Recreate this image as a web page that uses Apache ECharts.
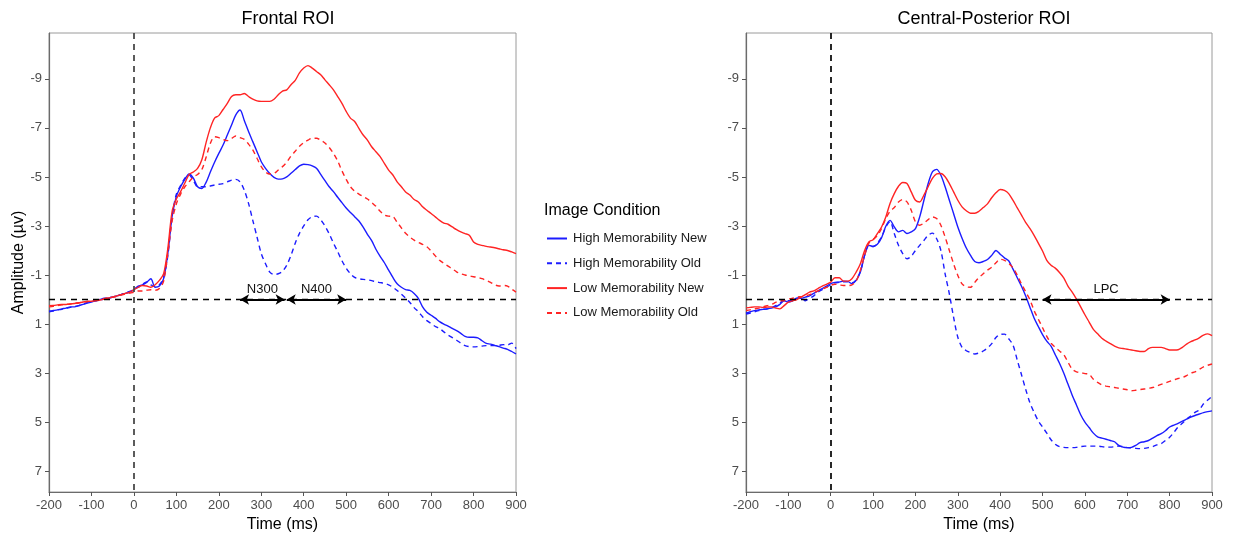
<!DOCTYPE html>
<html>
<head>
<meta charset="utf-8">
<script src="https://cdn.jsdelivr.net/npm/echarts@6/dist/echarts.min.js"></script>
<style>
    html, body { margin: 0; padding: 0; background: #fff; }
    #main { width: 1233px; height: 534px; }
</style>
</head>
<body>
<div id="main"></div>
<script>
// 时间轴 (ms), 每 10ms 一个采样点
let times = [];
for (let t = -200; t <= 900; t += 10) times.push(t);

let yTicks = [-9, -7, -5, -3, -1, 1, 3, 5, 7];

// Frontal ROI
let frontalHighNew = [0.48, 0.45, 0.42, 0.38, 0.35, 0.3, 0.3, 0.25, 0.2, 0.15, 0.1, 0.05, 0.0, -0.05, -0.05, -0.1, -0.15, -0.2, -0.25, -0.3,
    -0.4, -0.55, -0.6, -0.7, -0.85, -0.5, -0.55, -0.85, -1.9, -3.4, -4.2, -4.6, -4.9, -5.12, -4.95, -4.6, -4.53, -4.78, -5.2, -5.6,
    -5.96, -6.3, -6.71, -7.12, -7.53, -7.73, -7.3, -6.85, -6.44, -6.03, -5.62, -5.35, -5.14, -4.98, -4.91, -4.92, -5.0, -5.15, -5.3, -5.45,
    -5.52, -5.5, -5.45, -5.35, -5.1, -4.85, -4.6, -4.4, -4.17, -3.95, -3.73, -3.55, -3.38, -3.2, -2.95, -2.66, -2.4, -2.05, -1.76, -1.5,
    -1.2, -0.9, -0.64, -0.5, -0.4, -0.37, -0.25, -0.05, 0.3, 0.52, 0.64, 0.76, 0.9, 1.0, 1.08, 1.18, 1.27, 1.38, 1.5, 1.54,
    1.54, 1.56, 1.68, 1.79, 1.82, 1.87, 1.92, 1.98, 2.03, 2.12, 2.22];
let frontalHighOld = [0.5, 0.47, 0.42, 0.4, 0.35, 0.32, 0.28, 0.25, 0.2, 0.12, 0.08, 0.05, 0.02, -0.02, -0.08, -0.1, -0.15, -0.2, -0.28, -0.33,
    -0.42, -0.5, -0.62, -0.72, -0.6, -0.52, -0.6, -0.9, -1.8, -3.4, -4.3, -4.65, -4.95, -5.08, -4.85, -4.6, -4.6, -4.6, -4.63, -4.67,
    -4.7, -4.73, -4.8, -4.87, -4.9, -4.8, -4.46, -3.92, -3.23, -2.55, -1.87, -1.46, -1.12, -1.02, -1.05, -1.15, -1.4, -1.8, -2.3, -2.7,
    -3.0, -3.25, -3.38, -3.4, -3.25, -3.0, -2.68, -2.3, -1.95, -1.58, -1.28, -1.05, -0.9, -0.85, -0.82, -0.8, -0.77, -0.72, -0.69, -0.66,
    -0.6, -0.5, -0.37, -0.22, -0.06, 0.12, 0.33, 0.5, 0.7, 0.86, 0.98, 1.1, 1.18, 1.32, 1.45, 1.55, 1.66, 1.78, 1.88, 1.92,
    1.93, 1.92, 1.9, 1.88, 1.88, 1.88, 1.87, 1.84, 1.85, 1.78, 2.0];
let frontalLowNew = [0.25, 0.24, 0.22, 0.2, 0.2, 0.18, 0.16, 0.14, 0.1, 0.08, 0.07, 0.05, 0.02, -0.02, -0.06, -0.1, -0.15, -0.2, -0.25, -0.3,
    -0.4, -0.5, -0.57, -0.55, -0.5, -0.6, -0.78, -1.05, -2.1, -3.6, -4.1, -4.4, -4.75, -5.1, -5.2, -5.35, -5.7, -6.4, -7.0, -7.4,
    -7.5, -7.75, -8.0, -8.28, -8.35, -8.35, -8.4, -8.28, -8.17, -8.1, -8.08, -8.08, -8.08, -8.17, -8.35, -8.5, -8.55, -8.76, -8.94, -9.24,
    -9.44, -9.54, -9.44, -9.3, -9.17, -8.96, -8.76, -8.55, -8.28, -8.0, -7.67, -7.4, -7.26, -6.98, -6.71, -6.5, -6.23, -6.03, -5.83, -5.55,
    -5.28, -5.08, -4.8, -4.6, -4.39, -4.26, -4.08, -3.98, -3.78, -3.64, -3.51, -3.37, -3.23, -3.12, -3.07, -2.96, -2.85, -2.76, -2.69, -2.62,
    -2.35, -2.25, -2.21, -2.17, -2.14, -2.11, -2.07, -2.03, -2.0, -1.94, -1.87];
let frontalLowOld = [0.3, 0.28, 0.25, 0.22, 0.2, 0.18, 0.15, 0.13, 0.1, 0.08, 0.05, 0.03, 0.0, -0.03, -0.07, -0.1, -0.13, -0.18, -0.22, -0.26,
    -0.3, -0.35, -0.35, -0.38, -0.4, -0.38, -0.45, -0.75, -1.9, -3.2, -3.9, -4.3, -4.6, -4.8, -5.0, -5.1, -5.3, -5.8, -6.37, -6.64,
    -6.6, -6.53, -6.48, -6.57, -6.67, -6.6, -6.53, -6.34, -6.1, -5.76, -5.42, -5.2, -5.12, -5.14, -5.28, -5.42, -5.6, -5.85, -6.05, -6.25,
    -6.4, -6.5, -6.58, -6.58, -6.5, -6.38, -6.2, -5.96, -5.65, -5.25, -4.9, -4.6, -4.42, -4.3, -4.2, -4.1, -3.96, -3.8, -3.6, -3.45,
    -3.4, -3.38, -3.15, -2.92, -2.7, -2.55, -2.42, -2.33, -2.25, -2.15, -1.98, -1.78, -1.6, -1.48, -1.36, -1.25, -1.13, -1.05, -1.0, -0.96,
    -0.93, -0.9, -0.85, -0.78, -0.7, -0.6, -0.55, -0.57, -0.55, -0.42, -0.3];

// Central-Posterior ROI
let centralHighNew = [0.55, 0.5, 0.45, 0.42, 0.4, 0.38, 0.35, 0.3, 0.2, 0.05, 0.1, 0.05, -0.05, -0.05, -0.1, -0.15, -0.25, -0.35, -0.45, -0.55,
    -0.65, -0.7, -0.71, -0.75, -0.74, -0.65, -0.78, -1.12, -1.8, -2.21, -2.17, -2.25, -2.52, -2.99, -3.23, -2.96, -2.76, -2.82, -2.69, -2.76,
    -2.89, -3.37, -4.05, -4.73, -5.21, -5.31, -5.07, -4.6, -4.05, -3.51, -2.96, -2.5, -2.1, -1.8, -1.55, -1.5, -1.55, -1.63, -1.8, -2.0,
    -1.85, -1.7, -1.58, -1.25, -0.9, -0.55, -0.15, 0.3, 0.75, 1.1, 1.43, 1.7, 1.9, 2.25, 2.6, 3.0, 3.45, 3.9, 4.3, 4.7,
    5.0, 5.22, 5.45, 5.6, 5.65, 5.7, 5.75, 5.8, 5.95, 6.02, 6.04, 6.03, 5.95, 5.84, 5.8, 5.75, 5.65, 5.55, 5.47, 5.35,
    5.2, 5.12, 5.05, 4.96, 4.88, 4.8, 4.73, 4.67, 4.61, 4.57, 4.54];
let centralHighOld = [0.59, 0.55, 0.5, 0.45, 0.4, 0.38, 0.33, 0.25, 0.15, 0.0, 0.05, 0.05, -0.05, -0.1, 0.05, -0.05, -0.15, -0.3, -0.4, -0.5,
    -0.6, -0.68, -0.7, -0.72, -0.72, -0.68, -0.8, -1.15, -1.8, -2.2, -2.15, -2.3, -2.55, -2.95, -3.18, -2.69, -2.21, -1.87, -1.66, -1.76,
    -2.0, -2.21, -2.41, -2.62, -2.71, -2.48, -2.0, -1.05, -0.23, 0.72, 1.54, 1.95, 2.09, 2.16, 2.22, 2.18, 2.1, 1.98, 1.8, 1.55,
    1.42, 1.41, 1.6, 1.85, 2.45, 3.05, 3.65, 4.2, 4.6, 4.95, 5.2, 5.45, 5.72, 5.9, 6.0, 6.03, 6.04, 6.04, 6.03, 6.0,
    5.98, 5.98, 5.98, 5.98, 6.0, 6.02, 6.02, 6.0, 5.98, 6.0, 6.04, 6.05, 6.07, 6.08, 6.07, 6.04, 6.0, 5.93, 5.88, 5.75,
    5.62, 5.42, 5.2, 5.05, 4.88, 4.75, 4.6, 4.5, 4.25, 4.1, 3.95];
let centralLowNew = [0.34, 0.32, 0.3, 0.3, 0.32, 0.31, 0.3, 0.35, 0.38, 0.25, 0.11, 0.05, 0.0, -0.1, -0.2, -0.3, -0.35, -0.45, -0.55, -0.62,
    -0.71, -0.89, -0.89, -0.75, -0.75, -0.85, -1.12, -1.46, -2.0, -2.35, -2.44, -2.69, -2.96, -3.37, -3.92, -4.32, -4.62, -4.77, -4.73, -4.39,
    -4.05, -3.98, -4.26, -4.6, -4.94, -5.12, -5.14, -5.01, -4.73, -4.39, -4.05, -3.78, -3.62, -3.52, -3.52, -3.6, -3.75, -3.9, -4.15, -4.35,
    -4.49, -4.45, -4.32, -4.05, -3.75, -3.45, -3.15, -2.9, -2.62, -2.3, -1.98, -1.6, -1.4, -1.28, -1.1, -0.88, -0.55, -0.3, -0.02, 0.3,
    0.62, 0.92, 1.22, 1.4, 1.58, 1.7, 1.8, 1.9, 1.97, 2.0, 2.03, 2.06, 2.09, 2.12, 2.12, 2.0, 1.95, 1.95, 1.95, 2.0,
    2.06, 2.06, 2.05, 1.95, 1.82, 1.72, 1.65, 1.56, 1.45, 1.4, 1.47];
let centralLowOld = [0.45, 0.42, 0.38, 0.35, 0.3, 0.25, 0.2, 0.12, 0.05, 0.05, -0.02, -0.05, -0.1, -0.12, -0.15, -0.2, -0.28, -0.35, -0.42, -0.5,
    -0.58, -0.62, -0.6, -0.57, -0.57, -0.6, -0.75, -1.2, -1.8, -2.3, -2.45, -2.6, -2.9, -3.3, -3.6, -3.75, -3.98, -4.08, -3.98, -3.64,
    -3.17, -3.03, -3.12, -3.26, -3.37, -3.3, -3.03, -2.55, -2.0, -1.46, -0.98, -0.64, -0.52, -0.5, -0.7, -0.9, -1.05, -1.2, -1.32, -1.5,
    -1.64, -1.6, -1.48, -1.3, -1.0, -0.65, -0.32, 0.0, 0.45, 0.8, 1.15, 1.5, 1.78, 1.95, 2.1, 2.25, 2.55, 2.84, 2.95, 2.98,
    3.02, 3.05, 3.25, 3.38, 3.48, 3.53, 3.56, 3.59, 3.62, 3.65, 3.68, 3.72, 3.7, 3.67, 3.65, 3.62, 3.59, 3.53, 3.46, 3.4,
    3.34, 3.28, 3.22, 3.18, 3.1, 3.0, 2.95, 2.85, 2.75, 2.68, 2.63];

// 成分窗口 (ms)
let n300Window = [250, 355];
let n400Window = [360, 500];
let lpcWindow = [500, 800];

const BLUE = '#1c1cff', RED = '#ff2424';
const FONT = 'Liberation Sans';

function toPairs(vals) {
    return vals.map(function (v, i) {
        return [times[i], v];
    });
}

function lineSeries(name, vals, idx, color, dashed) {
    return {
        name: name,
        type: 'line',
        xAxisIndex: idx,
        yAxisIndex: idx,
        data: toPairs(vals),
        symbol: 'none',
        smooth: 0.3,
        lineStyle: {color: color, width: 1.4, type: dashed ? [5, 4] : 'solid'},
        itemStyle: {color: color},
        z: 3
    };
}

function arrow(win, text) {
    return [
        {
            coord: [win[0], 0], symbol: 'arrow', symbolSize: [8, 9],
            lineStyle: {color: '#000', width: 2, type: 'solid'},
            label: {
                show: true, formatter: text, position: 'insideMiddleTop', distance: 4,
                color: '#111', fontSize: 13, fontFamily: FONT
            }
        },
        {coord: [win[1], 0], symbol: 'arrow', symbolSize: [8, 9]}
    ];
}

function refLines(idx, extra, zeroColor) {
    return {
        silent: true,
        symbol: 'none',
        animation: false,
        label: {show: false},
        data: [
            {yAxis: 0, lineStyle: {color: '#000', width: 1.3, type: [6, 5]}},
            {xAxis: 0, lineStyle: {color: zeroColor, width: 1.8, type: [6, 5]}}
        ].concat(extra)
    };
}

function xAxisCfg(idx) {
    return {
        type: 'value', gridIndex: idx, min: -200, max: 900, interval: 100,
        name: 'Time (ms)', nameLocation: 'middle', nameGap: 20,
        nameTextStyle: {color: '#000', fontSize: 16, fontFamily: FONT},
        axisLine: {show: true, onZero: false, lineStyle: {color: '#6b6b6b', width: 1.2}},
        axisTick: {show: true, length: 4, lineStyle: {color: '#555'}},
        axisLabel: {color: '#4d4d4d', fontSize: 13, fontFamily: FONT, margin: 7},
        splitLine: {show: false}
    };
}

function yAxisCfg(idx, withName) {
    return {
        type: 'value', gridIndex: idx, inverse: true, min: -10.87, max: 7.85,
        name: withName ? 'Amplitude (\u00b5v)' : '', nameLocation: 'middle', nameGap: 22, nameRotate: 90,
        nameTextStyle: {color: '#000', fontSize: 16, fontFamily: FONT},
        axisLine: {show: true, onZero: false, lineStyle: {color: '#6b6b6b', width: 1.2}},
        axisTick: {show: true, length: 4, customValues: yTicks, lineStyle: {color: '#555'}},
        axisLabel: {color: '#4d4d4d', fontSize: 13, fontFamily: FONT, margin: 7, customValues: yTicks},
        splitLine: {show: false}
    };
}

let myChart = echarts.init(document.getElementById('main'), null, {renderer: 'canvas'});

let frontalSeries = [
    lineSeries('High Memorability New', frontalHighNew, 0, BLUE, false),
    lineSeries('High Memorability Old', frontalHighOld, 0, BLUE, true),
    lineSeries('Low Memorability New', frontalLowNew, 0, RED, false),
    lineSeries('Low Memorability Old', frontalLowOld, 0, RED, true)
];
let centralSeries = [
    lineSeries('High Memorability New', centralHighNew, 1, BLUE, false),
    lineSeries('High Memorability Old', centralHighOld, 1, BLUE, true),
    lineSeries('Low Memorability New', centralLowNew, 1, RED, false),
    lineSeries('Low Memorability Old', centralLowOld, 1, RED, true)
];
frontalSeries[0].markLine = refLines(0, [arrow(n300Window, 'N300'), arrow(n400Window, 'N400')], '#4a4a4a');
centralSeries[0].markLine = refLines(1, [arrow(lpcWindow, 'LPC')], '#111');

let option = {
    animation: false,
    backgroundColor: '#fff',
    textStyle: {fontFamily: FONT},
    title: [
        {text: 'Frontal ROI', left: 283, top: 5, textAlign: 'center',
            textStyle: {fontSize: 18, fontWeight: 'normal', color: '#000', fontFamily: FONT}},
        {text: 'Central-Posterior ROI', left: 979, top: 5, textAlign: 'center',
            textStyle: {fontSize: 18, fontWeight: 'normal', color: '#000', fontFamily: FONT}},
        {text: 'Image Condition', left: 539, top: 198,
            textStyle: {fontSize: 16, fontWeight: 'normal', color: '#000', fontFamily: FONT}}
    ],
    legend: {
        orient: 'vertical',
        left: 541, top: 227,
        itemWidth: 20, itemHeight: 14, itemGap: 11.8,
        data: ['High Memorability New', 'High Memorability Old', 'Low Memorability New', 'Low Memorability Old'],
        itemStyle: {opacity: 0},
        textStyle: {fontSize: 13, color: '#1a1a1a', fontFamily: FONT, padding: [0, 0, 0, 1]},
        selectedMode: false
    },
    grid: [
        {left: 49, top: 33, width: 467, height: 459, show: true, borderColor: '#9a9a9a', borderWidth: 1,
            containLabel: false, outerBoundsMode: 'none'},
        {left: 746, top: 33, width: 466, height: 459, show: true, borderColor: '#9a9a9a', borderWidth: 1,
            containLabel: false, outerBoundsMode: 'none'}
    ],
    xAxis: [xAxisCfg(0), xAxisCfg(1)],
    yAxis: [yAxisCfg(0, true), yAxisCfg(1, false)],
    series: frontalSeries.concat(centralSeries)
};
myChart.setOption(option);
</script>
</body>
</html>
